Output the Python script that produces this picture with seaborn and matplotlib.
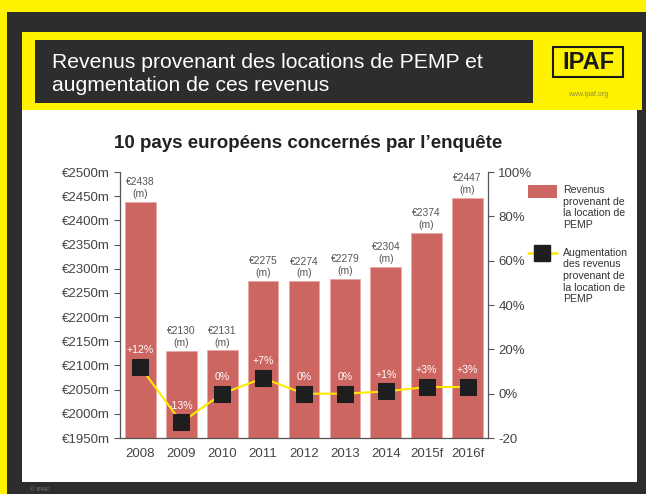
import matplotlib
matplotlib.use("Agg")
import matplotlib.pyplot as plt
from matplotlib.patches import Rectangle, Patch
from matplotlib.lines import Line2D
from matplotlib.offsetbox import HPacker
import seaborn as sns
import numpy as np
import pandas as pd

years = ["2008", "2009", "2010", "2011", "2012", "2013", "2014", "2015f", "2016f"]
revenue = [2438, 2130, 2131, 2275, 2274, 2279, 2304, 2374, 2447]
growth = [12, -13, 0, 7, 0, 0, 1, 3, 3]
growth_labels = ["+12%", "-13%", "0%", "+7%", "0%", "0%", "+1%", "+3%", "+3%"]
left_ticks = list(range(1950, 2501, 50))
right_ticks = [-20, 0, 20, 40, 60, 80, 100]
right_tick_labels = ["-20", "0%", "20%", "40%", "60%", "80%", "100%"]

sns.set_theme(style="white")
plt.rcParams["font.family"] = ["Liberation Sans", "DejaVu Sans"]

W, H = 646, 494
fig = plt.figure(figsize=(W / 100, H / 100), dpi=100)
fig.patch.set_facecolor("#FFF200")

def rect(x0, y0, x1, y1, color, z=-5, **kw):
    fig.patches.append(Rectangle((x0 / W, 1 - y1 / H), (x1 - x0) / W, (y1 - y0) / H,
                                 transform=fig.transFigure, facecolor=color,
                                 edgecolor="none", zorder=z, **kw))

# slide frame
rect(7, 12, W, H, "#2d2d2d")
rect(22, 32, W - 4, 110, "#FFF200")
rect(35, 40, 533, 103, "#2d2d2d")
rect(642, 32, W, 110, "#2d2d2d")
rect(22, 110, 637, 482, "white")

fig.text(52 / W, 1 - 74 / H, "Revenus provenant des locations de PEMP et\naugmentation de ces revenus",
         color="white", fontsize=15.2, va="center", ha="left", linespacing=1.3)
# logo
fig.patches.append(Rectangle((553 / W, 1 - 77 / H), 70 / W, 30 / H, transform=fig.transFigure,
                             facecolor="none", edgecolor="#1a1a1a", lw=1.5))
fig.text(588 / W, 1 - 62.5 / H, "IPAF", fontsize=17, fontweight="bold", color="#1a1a1a",
         ha="center", va="center")
fig.text(588 / W, 1 - 95 / H, "www.ipaf.org", fontsize=5, color="#8a8a40", ha="center", va="center")
fig.text(30 / W, 1 - 489 / H, "© IPAF", fontsize=4.5, color="#777777", ha="left", va="center")

fig.text(308 / W, 1 - 143 / H, "10 pays européens concernés par l’enquête",
         fontsize=13.5, fontweight="bold", color="#222222", ha="center", va="center")

ax = fig.add_axes([120 / W, 1 - 438 / H, (488 - 120) / W, (438 - 172) / H])
ax.set_facecolor("none")
ax.set_zorder(2)
df = pd.DataFrame({"year": years, "revenue": revenue, "growth": growth})
bar_color = "#CD6560"
sns.barplot(data=df, x="year", y="revenue", color=bar_color, saturation=1, width=0.75,
            edgecolor="#e8a9a5", linewidth=0.6, ax=ax, zorder=2)
ax.set_ylim(1950, 2500)
ax.set_xlim(-0.5, len(years) - 0.5)
ax.set_yticks(left_ticks)
ax.set_yticklabels([f"€{v}m" for v in left_ticks])
ax.set_xlabel("")
ax.set_ylabel("")
for i, v in enumerate(revenue):
    ax.text(i, v + 6, f"€{v}\n(m)", ha="center", va="bottom", fontsize=7.4,
            color="#555555", linespacing=1.2)

ax.set_xticks(np.arange(len(years)))
ax.set_xticks(np.arange(len(years) + 1) - 0.5, minor=True)
ax.tick_params(axis="x", which="major", length=0, labelsize=9.5, labelcolor="#444444", pad=7)
ax.tick_params(axis="x", which="minor", length=5, width=0.8, color="#555555", direction="out")
ax.tick_params(axis="y", length=4, width=0.8, color="#555555", labelsize=9.5,
               labelcolor="#444444", left=True, direction="out")
for s in ["top", "right"]:
    ax.spines[s].set_visible(False)
for s in ["left", "bottom"]:
    ax.spines[s].set_color("#555555")
    ax.spines[s].set_linewidth(0.9)

ax2 = ax.twinx()
ax2.set_ylim(-20, 100)
sns.lineplot(x=np.arange(len(years)), y=growth, ax=ax2, color="#FFE800", lw=1.5,
             marker="s", markersize=12, markerfacecolor="#1e1e1e", markeredgecolor="#1e1e1e",
             zorder=5)
ax2.set_yticks(right_ticks)
ax2.set_yticklabels(right_tick_labels)
ax2.tick_params(axis="y", length=4, width=0.8, color="#555555", labelsize=9.5,
                labelcolor="#444444", right=True, direction="out")
for s in ["top", "left", "bottom"]:
    ax2.spines[s].set_visible(False)
ax2.spines["right"].set_color("#555555")
ax2.spines["right"].set_linewidth(0.9)
for i, (g, lab) in enumerate(zip(growth, growth_labels)):
    ax2.text(i, g + 5.3, lab, ha="center", va="bottom", fontsize=7.6, color="white", zorder=6)

handles = [Patch(facecolor=bar_color, edgecolor="none"),
           Line2D([0], [0], color="#FFE800", lw=1.8, marker="s", markersize=12,
                  markerfacecolor="#1e1e1e", markeredgecolor="#1e1e1e")]
labels = ["Revenus\nprovenant de\nla location de\nPEMP",
          "Augmentation\ndes revenus\nprovenant de\nla location de\nPEMP"]
leg = fig.legend(handles, labels, loc="upper left", bbox_to_anchor=(528 / W, 1 - 185 / H),
                 frameon=False, fontsize=7.6, handlelength=2.7, handleheight=1.45,
                 handletextpad=0.65, labelspacing=1.7, borderaxespad=0, borderpad=0)
for t in leg.get_texts():
    t.set_color("#333333")
for col in leg._legend_handle_box.get_children():
    for item in col.get_children():
        if isinstance(item, HPacker):
            item.align = "top"

fig.savefig("out.png", dpi=100, facecolor=fig.get_facecolor())
